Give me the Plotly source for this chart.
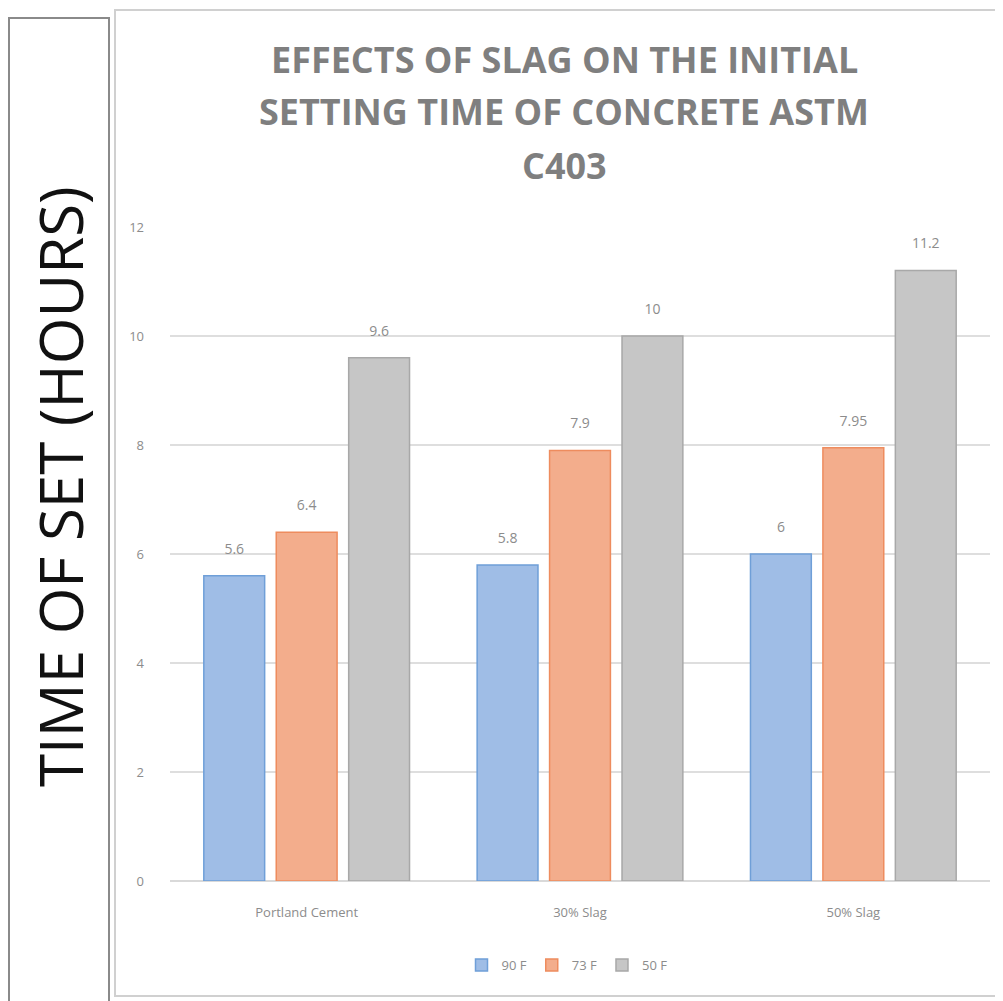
import plotly.graph_objects as go

categories = ["Portland Cement", "30% Slag", "50% Slag"]
series_names = ["90 F", "73 F", "50 F"]
vals_90 = [5.6, 5.8, 6]
vals_73 = [6.4, 7.9, 7.95]
vals_50 = [9.6, 10, 11.2]
label_90 = ["5.6", "5.8", "6"]
label_73 = ["6.4", "7.9", "7.95"]
label_50 = ["9.6", "10", "11.2"]
tick_vals = [0, 2, 4, 6, 8, 10, 12]
title_lines = ["EFFECTS OF SLAG ON THE INITIAL", "SETTING TIME OF CONCRETE ASTM", "C403"]

fills = ["#9fbde6", "#f3ad8c", "#c6c6c6"]
borders = ["#6f9fd8", "#ee8c5e", "#a8a8a8"]

OFF = 8  # page body margin
W, H = 995, 993
L, R, T, B = 170 - OFF, 13, 227 - OFF, 120
pw, ph = W - L - R, H - T - B

def px(x):
    return (x - OFF - L) / pw

def py(y):
    return (H - B - (y - OFF)) / ph

fig = go.Figure()
for name, vals, labs, fc, bc in zip(series_names, [vals_90, vals_73, vals_50],
                                    [label_90, label_73, label_50], fills, borders):
    fig.add_trace(go.Bar(
        x=categories, y=vals, name=name, text=labs, textposition="outside",
        texttemplate="%{text}<br><span style='font-size:5px'> </span>",
        textfont=dict(color="#8c8c8c", size=14, family="Open Sans"),
        cliponaxis=False,
        marker=dict(color=fc, line=dict(color=bc, width=1.5)),
    ))

fig.update_layout(
    width=W, height=H,
    margin=dict(l=L, r=R, t=T, b=B),
    paper_bgcolor="white", plot_bgcolor="white",
    barmode="group", bargap=0.205, bargroupgap=0.16,
    showlegend=True,
    legend=dict(orientation="h", x=px(567), xanchor="center",
                y=py(965), yanchor="middle",
                font=dict(size=13, color="#8c8c8c", family="Open Sans"),
                itemwidth=30, traceorder="normal"),
    xaxis=dict(showline=False, ticks="", ticklabelstandoff=22,
               tickfont=dict(size=13, color="#8c8c8c", family="Open Sans")),
    yaxis=dict(range=[0, 12], tickvals=tick_vals, showline=False, zeroline=True,
               zerolinecolor="#d9d9d9", zerolinewidth=1.5,
               gridcolor="#dedede", gridwidth=1.5, ticks="",
               ticklabelstandoff=25,
               tickfont=dict(size=13, color="#8c8c8c", family="Open Sans")),
    font=dict(family="Open Sans"),
)

fig.update_xaxes(automargin=False)
fig.update_yaxes(automargin=False)

# Title, one annotation per line for exact spacing
for line, yc in zip(title_lines, [60, 112, 165]):
    fig.add_annotation(
        text="<b>" + line + "</b>",
        xref="paper", yref="paper", x=px(564), y=py(yc), xanchor="center", yanchor="middle",
        showarrow=False, font=dict(size=36, color="#7f7f7f", family="Open Sans"),
    )

# Y title in left box
fig.add_annotation(
    text="TIME OF SET (HOURS)", xref="paper", yref="paper",
    x=px(60), y=py(487), xanchor="center", yanchor="middle", textangle=-90,
    showarrow=False, font=dict(size=60, color="#111111", family="Open Sans"),
)

# Boxes
fig.add_shape(type="rect", xref="paper", yref="paper",
              x0=px(9), x1=px(109), y0=py(1010), y1=py(18),
              line=dict(color="#8a8a8a", width=2), fillcolor="rgba(0,0,0,0)")
fig.add_shape(type="rect", xref="paper", yref="paper",
              x0=px(115), x1=px(999), y0=py(996), y1=py(10),
              line=dict(color="#d0d0d0", width=2), fillcolor="rgba(0,0,0,0)")

fig.write_html("out.html")
